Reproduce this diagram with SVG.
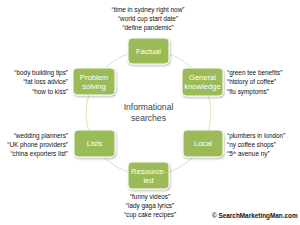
<svg xmlns="http://www.w3.org/2000/svg" width="300" height="225" viewBox="0 0 300 225">
<defs>
<filter id="sh" x="-20%" y="-20%" width="150%" height="150%">
<feDropShadow dx="0.8" dy="1.2" stdDeviation="0.8" flood-color="#000" flood-opacity="0.3"/>
</filter>
<style>
.box{fill:#9bbb59;stroke:#fff;stroke-width:1;filter:url(#sh)}
.lbl{font-family:"Liberation Sans",Arial,sans-serif;font-size:7.6px;fill:#fff;text-anchor:middle}
.q{font-family:"Liberation Sans",Arial,sans-serif;font-size:6.4px;fill:#111}
.c{text-anchor:middle}
.r{text-anchor:end}
.l{text-anchor:start}
.ctr{font-family:"Liberation Sans",Arial,sans-serif;font-size:8.6px;fill:#404040;text-anchor:middle}
</style>
</defs>
<rect width="300" height="225" fill="#fff"/>
<g id="connectors">
<circle cx="148.5" cy="113" r="62.5" fill="none" stroke="#d7e4bd" stroke-width="1"/>
</g>
<g id="center">
<text class="ctr" x="148.5" y="110">Informational</text>
<text class="ctr" x="148.5" y="121">searches</text>
</g>
<g id="factual">
<rect class="box" x="128" y="38" width="41" height="26" rx="4"/>
<text class="lbl" x="148.5" y="53.8">Factual</text>
<text class="q c" x="148" y="11.5">“time in sydney right now”</text>
<text class="q c" x="148" y="20.5">“world cup start date”</text>
<text class="q c" x="148" y="29.5">“define pandemic”</text>
</g>
<g id="general">
<rect class="box" x="182" y="68" width="41" height="28" rx="4"/>
<text class="lbl" x="202.5" y="80">General</text>
<text class="lbl" x="202.5" y="89">knowledge</text>
<text class="q l" x="227" y="74.5">“green tee benefits”</text>
<text class="q l" x="227" y="84">“history of coffee”</text>
<text class="q l" x="227" y="93.5">“flu symptoms”</text>
</g>
<g id="problem">
<rect class="box" x="73" y="68" width="42" height="27" rx="4"/>
<text class="lbl" x="94" y="80">Problem</text>
<text class="lbl" x="94" y="89">solving</text>
<text class="q r" x="68" y="74.5">“body building tips”</text>
<text class="q r" x="68" y="84">“fat loss advice”</text>
<text class="q r" x="68" y="93.5">“how to kiss”</text>
</g>
<g id="lists">
<rect class="box" x="74" y="130" width="41" height="27" rx="4"/>
<text class="lbl" x="94.5" y="146">Lists</text>
<text class="q r" x="68" y="137.5">“wedding planners”</text>
<text class="q r" x="68" y="146.5">“UK phone providers”</text>
<text class="q r" x="68" y="156">“china exporters list”</text>
</g>
<g id="local">
<rect class="box" x="183" y="130" width="40" height="27" rx="4"/>
<text class="lbl" x="203" y="146">Local</text>
<text class="q l" x="227" y="138">“plumbers in london”</text>
<text class="q l" x="227" y="147">“ny coffee shops”</text>
<text class="q l" x="227" y="156">“5<tspan font-size="4.2" baseline-shift="super">th</tspan> avenue ny”</text>
</g>
<g id="resource">
<rect class="box" x="128" y="162" width="41" height="27" rx="4"/>
<text class="lbl" x="148.5" y="174">Resource-</text>
<text class="lbl" x="148.5" y="183">led</text>
<text class="q c" x="150" y="198.5">“funny videos”</text>
<text class="q c" x="150" y="207.5">“lady gaga lyrics”</text>
<text class="q c" x="150" y="216.5">“cup cake recipes”</text>
</g>
<g id="credit">
<text x="212" y="217.5" font-family="'Liberation Sans',Arial,sans-serif" font-size="6.4" font-weight="bold" fill="#111">© SearchMarketingMan.com</text>
</g>
</svg>
